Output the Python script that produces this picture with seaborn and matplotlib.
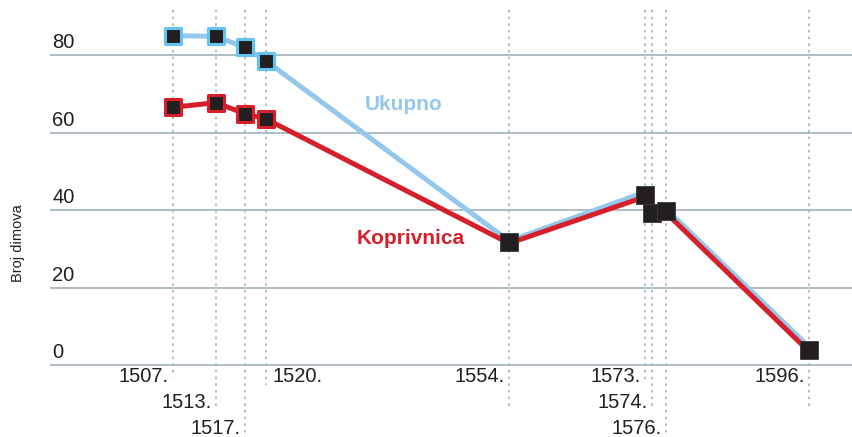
import numpy as np
import pandas as pd
import seaborn as sns
import matplotlib.pyplot as plt

# values
years = [1507, 1513, 1517, 1520, 1554, 1573, 1574, 1576, 1596]
ukupno = [85, 84.8, 82, 78.5, 32, 44.6, 39.8, 40.2, 4.6]
koprivnica = [66.5, 67.7, 64.9, 63.5, 31.4, 43.4, 38.8, 39.2, 3.4]
year_labels = ["1507.", "1513.", "1517.", "1520.", "1554.", "1573.", "1574.", "1576.", "1596."]
y_ticks = [0, 20, 40, 60, 80]

# label layout (row under axis, side of the dotted line, where the dotted line stops)
label_row = [0, 1, 2, 0, 0, 0, 1, 2, 0]
label_side = ["l", "l", "l", "r", "l", "l", "l", "l", "l"]
line_end_px = [377, 407, 437, 385, 407, 383, 408, 437, 407]
n_separate = 4  # first points have a marker per series, later ones share one

BLUE = "#93c7eb"
BLUE_EDGE = "#62c5ef"
RED = "#d71f29"
BLACK = "#231f20"
GRID = "#a9b7c0"

sns.set_style("white")
plt.rcParams["font.family"] = ["Liberation Sans", "DejaVu Sans"]

W, H = 853, 437
fig = plt.figure(figsize=(W / 100, H / 100), dpi=100)
left_px = 50
ax = fig.add_axes([left_px / W, 0, (W - left_px) / W, 1])

# scales: 1507 -> px 173, 7.15 px/year ; 0 -> px 365, 3.875 px/unit
px_per_year = 7.15
x0 = 1507 - (173 - left_px) / px_per_year
x1 = x0 + (W - left_px) / px_per_year
px_per_unit = 3.875
y0 = -(H - 365) / px_per_unit
y1 = y0 + H / px_per_unit
ax.set_xlim(x0, x1)
ax.set_ylim(y0, y1)
ax.axis("off")

def px_to_y(py):
    return y0 + (H - py) / px_per_unit

# horizontal grid
for v in y_ticks:
    ax.axhline(v, color=GRID, lw=1.3, zorder=1)
    ax.annotate(str(v), xy=(0.003, v), xycoords=("axes fraction", "data"),
                xytext=(0, 2), textcoords="offset points",
                ha="left", va="bottom", fontsize=14.5, color="#231f20")

# dotted year lines and staggered labels
row_y_px = [377, 402, 428]
for yr, lab, row, side, end in zip(years, year_labels, label_row, label_side, line_end_px):
    ax.plot([yr, yr], [px_to_y(10), px_to_y(end)], color="#9fb2be", lw=1.2,
            ls=(0, (1.5, 2.5)), zorder=1, clip_on=False)
    if side == "l":
        ax.annotate(lab, xy=(yr, px_to_y(row_y_px[row])), xytext=(-3, 0),
                    textcoords="offset points", ha="right", va="center",
                    fontsize=14.5, color="#231f20")
    else:
        ax.annotate(lab, xy=(yr, px_to_y(row_y_px[row])), xytext=(5, 0),
                    textcoords="offset points", ha="left", va="center",
                    fontsize=14.5, color="#231f20")

df = pd.DataFrame({"year": years, "Ukupno": ukupno, "Koprivnica": koprivnica})

sns.lineplot(data=df, x="year", y="Ukupno", color=BLUE, lw=3.6, ax=ax,
             legend=False, zorder=3)
sns.lineplot(data=df, x="year", y="Koprivnica", color=RED, lw=3.6, ax=ax,
             legend=False, zorder=3)

early = df.iloc[:n_separate]
late = df.iloc[n_separate:].copy()
late["mid"] = (late["Ukupno"] + late["Koprivnica"]) / 2

sns.scatterplot(data=early, x="year", y="Ukupno", marker="s", s=140,
                color=BLACK, edgecolor=BLUE_EDGE, linewidth=2.2, ax=ax,
                legend=False, zorder=4)
sns.scatterplot(data=early, x="year", y="Koprivnica", marker="s", s=140,
                color=BLACK, edgecolor=RED, linewidth=2.2, ax=ax,
                legend=False, zorder=4)
sns.scatterplot(data=late, x="year", y="mid", marker="s", s=150,
                color=BLACK, edgecolor="#3a3a3a", linewidth=0.6, ax=ax,
                legend=False, zorder=4)

# series names
ax.text(1539.2, px_to_y(104), "Ukupno", color=BLUE, fontsize=15,
        fontweight="bold", ha="center", va="center")
ax.text(1540.2, px_to_y(239), "Koprivnica", color=RED, fontsize=15,
        fontweight="bold", ha="center", va="center")

fig.text(18 / W, 1 - 243 / H, "Broj dimova", rotation=90, ha="center",
         va="center", fontsize=10.5, color="#231f20")

ax.set_xlabel("")
ax.set_ylabel("")
fig.savefig("out.png", dpi=100)
